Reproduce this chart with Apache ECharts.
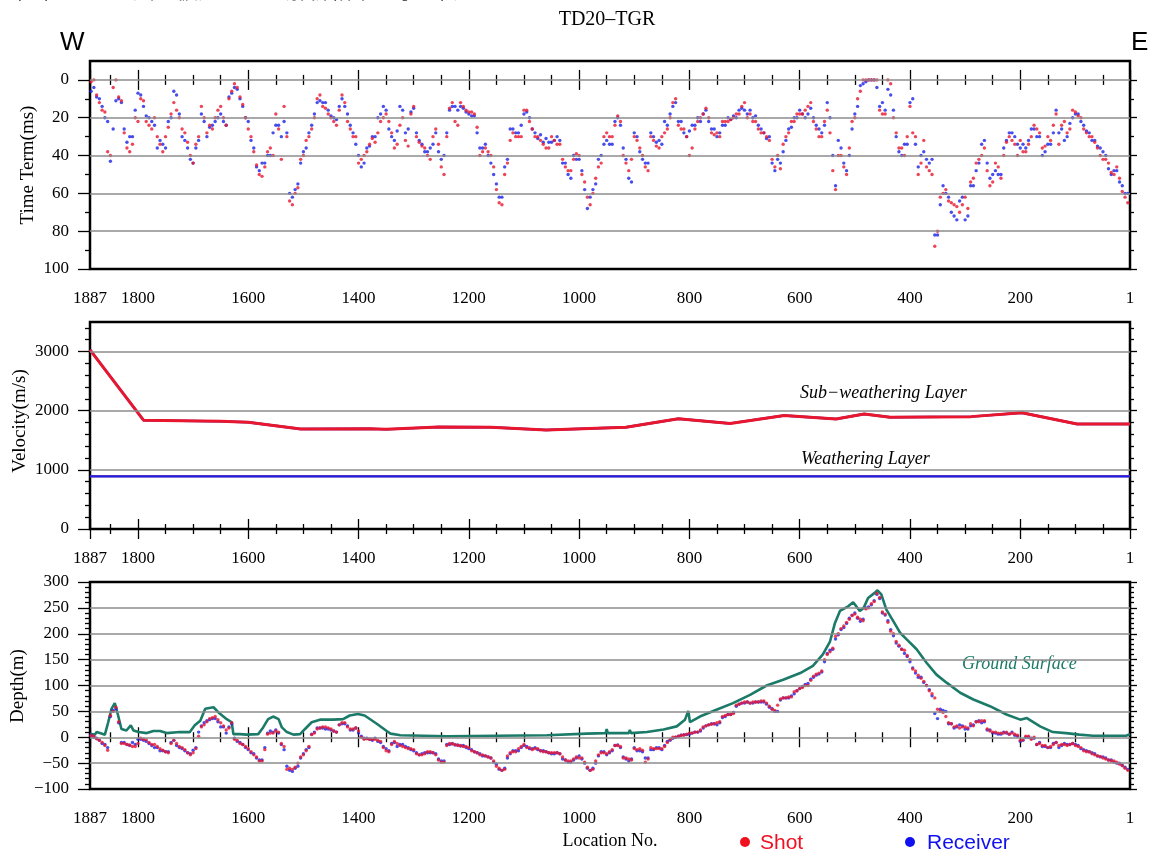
<!DOCTYPE html>
<html>
<head>
<meta charset="utf-8">
<title>TD20-TGR</title>
<script src="https://cdn.jsdelivr.net/npm/echarts@6/dist/echarts.min.js"></script>
<style>
  html, body { margin: 0; padding: 0; background: #fff; }
  #chart { width: 1151px; height: 853px; }
</style>
</head>
<body>
<div id="chart"></div>
<script>
// ---- station numbering (x axis runs from 1887 on the west to 1 on the east) ----
const locLabels = [1887, 1800, 1600, 1400, 1200, 1000, 800, 600, 400, 200, 1];

// every list below is sampled every 10 stations, starting at 1885 or 1880
const stationStep = 10;

// ---- panel 1: time terms (ms) ----
const shotTime = [ // stations 1885, 1875, ... 5
  1, 8, 16, 38, 4, 9, 28, 38, 20, 10,
  22, 26, 30, 38, 25, 12, 20, 28, 40, 34,
  14, 28, 26, 16, 20, 10, 2, 9, 20, 30,
  45, 51, 38, 40, 26, 14, 64, 60, 42, 32,
  26, 10, 14, 18, 22, 16, 12, 26, 30, 42,
  38, 31, 28, 20, 22, 36, 24, 32, 18, 30,
  35, 40, 30, 34, 50, 15, 22, 12, 16, 17,
  25, 38, 38, 46, 65, 50, 32, 30, 30, 16,
  26, 30, 34, 36, 32, 34, 46, 48, 39, 50,
  62, 60, 46, 30, 30, 24, 22, 44, 42, 32,
  40, 48, 32, 36, 28, 20, 10, 26, 30, 36,
  22, 18, 20, 29, 30, 22, 21, 18, 14, 20,
  22, 26, 28, 32, 46, 47, 30, 22, 18, 18,
  14, 22, 30, 22, 28, 58, 40, 50, 22, 10,
  0, 0, 0, 16, 18, 2, 28, 36, 30, 28,
  50, 32, 48, 88, 62, 58, 65, 67, 66, 68,
  52, 42, 36, 56, 44, 52, 33, 32, 40, 38,
  34, 24, 28, 35, 32, 18, 24, 28, 16, 19,
  26, 30, 33, 40, 42, 49, 46, 59, 65
];
const shotTimeMid = [ // stations 1880, 1870, ... 10
  0, 12, 17, 40, 0, 11, 36, 34, 22, 11,
  24, 20, 34, 30, 18, 16, 26, 33, 44, 30,
  20, 24, 20, 14, 24, 6, 4, 13, 26, 38,
  50, 46, 36, 18, 42, 30, 66, 57, 40, 30,
  20, 8, 15, 20, 24, 8, 22, 30, 44, 40,
  34, 33, 22, 18, 28, 34, 20, 35, 14, 33,
  36, 42, 26, 46, 30, 12, 24, 14, 17, 18,
  40, 36, 40, 58, 66, 44, 28, 30, 16, 22,
  30, 32, 36, 30, 34, 42, 48, 42, 40, 54,
  66, 52, 44, 28, 30, 19, 40, 48, 30, 36,
  46, 30, 35, 30, 26, 12, 24, 26, 40, 26,
  20, 15, 28, 28, 22, 22, 20, 18, 12, 18,
  22, 28, 30, 42, 40, 34, 28, 22, 18, 16,
  12, 26, 30, 16, 48, 40, 46, 36, 20, 6,
  0, 0, 0, 18, 0, 20, 36, 40, 14, 30,
  44, 46, 50, 80, 60, 64, 66, 70, 62, 54,
  44, 40, 48, 54, 46, 40, 30, 34, 32, 38,
  30, 26, 36, 30, 24, 34, 22, 26, 17, 20,
  28, 30, 36, 42, 44, 50, 52, 62
];
const recvTime = [ // stations 1880, 1870, ... 10
  4, 10, 20, 43, 11, 12, 33, 30, 7, 14,
  20, 24, 32, 36, 20, 8, 30, 36, 44, 32,
  22, 25, 22, 18, 24, 7, 5, 14, 22, 36,
  48, 44, 40, 24, 30, 28, 62, 55, 38, 28,
  18, 11, 12, 19, 21, 10, 18, 28, 40, 44,
  35, 30, 18, 16, 30, 27, 16, 26, 15, 32,
  38, 36, 28, 42, 28, 14, 16, 15, 18, 19,
  36, 34, 44, 55, 62, 42, 26, 28, 18, 20,
  28, 29, 31, 33, 30, 44, 50, 40, 42, 58,
  62, 55, 40, 32, 34, 20, 36, 52, 28, 38,
  44, 28, 33, 34, 24, 14, 22, 28, 27, 24,
  22, 16, 26, 30, 24, 20, 19, 16, 16, 16,
  19, 26, 31, 44, 42, 38, 26, 20, 16, 20,
  15, 24, 28, 12, 40, 32, 44, 40, 18, 3,
  1, 0, 4, 12, 5, 16, 38, 34, 12, 34,
  40, 42, 42, 82, 56, 62, 72, 64, 74, 56,
  48, 34, 44, 50, 50, 36, 28, 30, 36, 36,
  26, 30, 40, 34, 28, 28, 32, 23, 18, 22,
  27, 32, 35, 38, 47, 48, 54, 60
];
const recvTimeMid = [ // stations 1885, 1875, ... 5
  6, 9, 14, 22, 26, 10, 26, 30, 16, 8,
  19, 22, 36, 34, 22, 6, 18, 32, 42, 36,
  18, 30, 24, 20, 22, 9, 4, 10, 20, 32,
  46, 44, 40, 28, 24, 22, 60, 58, 44, 36,
  24, 12, 12, 16, 20, 14, 14, 24, 34, 46,
  36, 30, 20, 14, 26, 32, 14, 28, 17, 28,
  34, 38, 34, 38, 40, 16, 14, 14, 17, 19,
  28, 36, 40, 50, 62, 46, 26, 28, 24, 17,
  26, 31, 33, 33, 32, 32, 44, 52, 42, 48,
  68, 58, 42, 34, 34, 22, 24, 42, 54, 30,
  42, 44, 30, 32, 22, 18, 12, 22, 30, 24,
  20, 18, 22, 26, 28, 24, 21, 20, 15, 18,
  20, 24, 28, 30, 48, 44, 32, 25, 20, 18,
  18, 20, 26, 24, 20, 56, 36, 48, 26, 14,
  2, 0, 0, 14, 16, 8, 30, 40, 34, 10,
  46, 38, 44, 82, 66, 60, 70, 74, 62, 72,
  56, 44, 32, 52, 48, 50, 32, 28, 34, 34,
  32, 26, 30, 38, 34, 16, 26, 30, 20, 18,
  24, 28, 32, 36, 40, 50, 48, 56, 60
];

// ---- panel 2: layer velocities (m/s) ----
const subLoc = [1887, 1790, 1650, 1600, 1505, 1380, 1350, 1255, 1160, 1060, 915, 820, 726, 628, 534, 483, 436, 289, 197, 97, 1];
const subVel = [3030, 1840, 1820, 1805, 1690, 1695, 1685, 1725, 1720, 1675, 1720, 1865, 1785, 1920, 1860, 1945, 1890, 1900, 1965, 1775, 1775];
const weatherLoc = [1887, 1];
const weatherVel = [890, 890];

// ---- panel 3: elevations (m) ----
const shotDepth = [ // stations 1885, 1875, ... 5
  3, -3, -10, -25, 50, 30, -12, -15, -18, -2,
  -5, -14, -18, -25, -30, -6, -18, -24, -34, -22,
  20, 30, 38, 34, 22, 18, -4, -12, -18, -28,
  -38, -46, 6, 8, 10, -18, -60, -58, -38, -26,
  5, 16, 20, 18, 12, 24, 28, 16, 18, 0,
  -3, -4, -6, -20, -28, -8, -16, -20, -22, -32,
  -34, -28, -30, -44, -48, -12, -14, -16, -18, -26,
  -30, -34, -38, -46, -60, -62, -30, -28, -18, -20,
  -24, -22, -28, -30, -30, -32, -44, -46, -38, -40,
  -58, -62, -34, -30, -28, -16, -18, -40, -44, -24,
  -25, -42, -22, -22, -18, -4, 0, 4, 6, 8,
  10, 20, 24, 26, 30, 42, 44, 62, 66, 68,
  68, 68, 70, 60, 52, 74, 76, 78, 90, 96,
  100, 118, 124, 150, 165, 195, 210, 222, 235, 232,
  225, 250, 262, 270, 238, 205, 185, 170, 158, 132,
  120, 108, 90, 76, 50, 40, 26, 22, 20, 18,
  22, 30, 32, 12, 10, 8, 10, 8, 4, -5,
  2, 0, -12, -16, -18, -10, -14, -16, -12, -18,
  -26, -28, -34, -37, -42, -46, -48, -55, -64
];
const shotDepthMid = [ // stations 1880, 1870, ... 10
  2, -6, -16, 42, 58, -12, -14, -18, -12, -4,
  -10, -14, -22, -28, -12, -12, -20, -30, -30, 2,
  24, 36, 40, 28, 14, 28, -6, -14, -22, -34,
  -46, -24, 8, 12, -12, -62, -62, -50, -34, -18,
  8, 18, 20, 16, 10, 28, 20, 16, 12, -4,
  -4, -4, -8, -26, -14, -12, -18, -22, -24, -34,
  -32, -28, -34, -48, -16, -13, -16, -18, -20, -28,
  -34, -36, -40, -56, -64, -36, -28, -22, -14, -20,
  -22, -26, -28, -30, -30, -38, -46, -42, -40, -48,
  -64, -46, -30, -32, -24, -16, -40, -42, -22, -22,
  -48, -20, -22, -22, -10, 0, 2, 4, 8, 10,
  14, 22, 25, 28, 40, 44, 46, 64, 68, 66,
  68, 70, 66, 54, 62, 76, 78, 88, 94, 100,
  110, 122, 128, 160, 172, 200, 215, 228, 238, 228,
  248, 258, 278, 242, 222, 200, 178, 168, 150, 128,
  114, 100, 84, 54, 48, 28, 20, 18, 20, 26,
  30, 32, 16, 10, 8, 8, 6, 6, -6, 2,
  -4, -14, -16, -20, -14, -16, -14, -14, -16, -20,
  -28, -32, -36, -40, -44, -46, -52, -60
];
const recvDepth = [ // stations 1880, 1870, ... 10
  0, -6, -14, 40, 55, -10, -14, -10, -4, -6,
  -12, -20, -26, -28, -10, -16, -22, -30, -25, 10,
  28, 34, 36, 20, 8, 26, -8, -14, -24, -32,
  -44, -20, 12, 14, -14, -56, -66, -56, -32, -20,
  10, 18, 16, 14, 10, 26, 22, 14, 8, -2,
  -4, -2, -10, -22, -12, -18, -14, -20, -26, -34,
  -30, -30, -32, -46, -14, -12, -15, -16, -22, -28,
  -32, -36, -40, -52, -64, -40, -26, -26, -16, -22,
  -20, -26, -28, -32, -30, -42, -48, -44, -36, -50,
  -64, -50, -28, -34, -26, -15, -38, -46, -20, -26,
  -40, -24, -20, -24, -8, -2, 2, 5, 6, 10,
  12, 22, 26, 24, 38, 44, 48, 64, 66, 66,
  68, 68, 64, 55, 50, 76, 76, 84, 94, 102,
  112, 120, 126, 162, 170, 198, 212, 230, 240, 224,
  250, 256, 276, 240, 225, 196, 176, 162, 146, 124,
  116, 100, 80, 36, 52, 26, 18, 24, 16, 22,
  30, 28, 14, 8, 6, 10, 6, 4, -8, 0,
  -2, -14, -18, -20, -12, -20, -12, -14, -14, -22,
  -26, -30, -36, -38, -44, -48, -50, -58
];
const recvDepthMid = [ // stations 1885, 1875, ... 5
  4, -2, -12, -20, 52, 28, -10, -16, -14, -4,
  -8, -16, -20, -26, -28, -6, -20, -26, -32, -20,
  22, 32, 36, 30, 20, 20, -2, -10, -20, -30,
  -40, -44, 8, 10, 8, -24, -64, -60, -40, -24,
  6, 18, 18, 16, 12, 24, 26, 14, 18, 2,
  -2, -6, -8, -18, -26, -10, -14, -18, -24, -30,
  -32, -30, -30, -42, -46, -14, -15, -17, -20, -24,
  -30, -36, -38, -48, -62, -60, -32, -26, -20, -18,
  -22, -24, -26, -30, -32, -32, -44, -48, -40, -42,
  -60, -60, -36, -28, -30, -16, -20, -42, -42, -26,
  -28, -40, -24, -20, -16, -6, 0, 4, 5, 8,
  10, 18, 24, 26, 28, 40, 44, 60, 66, 68,
  66, 68, 68, 58, 50, 72, 76, 80, 90, 98,
  104, 116, 122, 146, 168, 190, 208, 220, 236, 230,
  228, 252, 264, 268, 236, 208, 182, 170, 156, 134,
  116, 106, 92, 46, 54, 50, 26, 20, 22, 16,
  24, 32, 30, 14, 8, 6, 8, 10, 2, -6,
  0, -2, -10, -18, -20, -10, -16, -14, -12, -16,
  -24, -28, -32, -38, -40, -44, -50, -54, -62
];
const groundLoc = [
  1887, 1878, 1875, 1869, 1860, 1854, 1848, 1842, 1836, 1830, 1821, 1813, 1808, 1799, 1784, 1772,
  1760, 1748, 1724, 1706, 1697, 1687, 1678, 1663, 1654, 1639, 1630, 1627, 1615, 1603, 1582, 1573,
  1564, 1555, 1545, 1539, 1530, 1518, 1506, 1497, 1485, 1470, 1446, 1428, 1416, 1401, 1389, 1367,
  1349, 1342, 1324, 1239, 1058, 986, 952, 950, 948, 910, 908, 906, 877, 847, 823, 808, 802, 799,
  781, 751, 721, 690, 660, 630, 599, 576, 558, 545, 536, 527, 512, 503, 491, 484, 476,
  464, 459, 452, 443, 430, 418, 406, 388, 370, 352, 333, 309, 285, 255, 225, 200, 188, 164,
  141, 117, 93, 68, 8, 1
];
const groundElev = [
  6, 5, 10, 8, 5, 29, 55, 66, 42, 16, 13, 23, 13, 10, 8, 12,
  12, 8, 10, 10, 23, 32, 55, 58, 48, 35, 29, 6, 6, 5, 6, 19,
  35, 40, 35, 19, 10, 5, 6, 16, 29, 34, 34, 35, 42, 45, 42, 26,
  12, 7, 4, 2, 4, 7, 8, 16, 8, 8, 14, 8, 10, 15, 21, 34, 51, 29,
  40, 53, 66, 82, 100, 111, 124, 138, 160, 185, 221, 244, 253, 261, 244, 250, 269,
  279, 284, 276, 247, 224, 202, 189, 170, 144, 121, 105, 86, 73, 60, 44, 34, 37, 21,
  10, 8, 5, 3, 3, 6
];

// ---- styling ----
const SERIF = '"Liberation Serif", "Times New Roman", serif';
const SANS = '"Liberation Sans", Arial, sans-serif';
const RED = '#e8172e';
const BLUE = '#1a22e6';
const TEAL = '#1b7a68';
const GRID_GRAY = '#8c8c8c';

function ticksBetween(min, max, step, skip) {
  const out = [];
  for (let v = min; v <= max; v += step) if (skip.indexOf(v) < 0) out.push(v);
  return out;
}
const locMinor = ticksBetween(50, 1850, 50, locLabels);

const panels = [
  { top: 61, height: 208, min: -10, max: 100, inverse: true,
    labels: [0, 20, 40, 60, 80, 100], minor: [10, 30, 50, 70, 90],
    grid: [0, 20, 40, 60, 80] },
  { top: 322, height: 207, min: 0, max: 3500, inverse: false,
    labels: [0, 1000, 2000, 3000], minor: ticksBetween(200, 3400, 200, [1000, 2000, 3000]),
    grid: [1000, 2000, 3000] },
  { top: 582, height: 207, min: -100, max: 300, inverse: false,
    labels: [-100, -50, 0, 50, 100, 150, 200, 250, 300],
    minor: ticksBetween(-90, 290, 10, [-50, 0, 50, 100, 150, 200, 250]),
    grid: [-50, 0, 50, 100, 150, 200, 250] }
];

const tickLine = { color: '#000', width: 1.3 };
const fmt = v => (v < 0 ? '\u2212' + (-v) : String(v));

const grid = [], xAxis = [], yAxis = [];
panels.forEach((p, g) => {
  grid.push({ left: 90, right: 21, top: p.top, height: p.height, show: true,
              borderColor: '#000', borderWidth: 2.5, backgroundColor: 'transparent' });
  const xBase = { type: 'value', gridIndex: g, min: 1, max: 1887, inverse: true,
                  axisLine: { show: false }, splitLine: { show: false } };
  [['bottom', true], ['top', false]].forEach(([pos, withLabels]) => {
    xAxis.push(Object.assign({}, xBase, {
      position: pos,
      axisTick: { show: true, customValues: locLabels, length: 10, lineStyle: tickLine },
      axisLabel: { show: withLabels, customValues: locLabels, margin: 21, formatter: v => String(v),
                   fontFamily: SERIF, fontSize: 17, color: '#000' }
    }));
    xAxis.push(Object.assign({}, xBase, {
      position: pos,
      axisTick: { show: true, customValues: locMinor, length: 5, lineStyle: tickLine },
      axisLabel: { show: false }
    }));
  });
  const yBase = { type: 'value', gridIndex: g, min: p.min, max: p.max, inverse: p.inverse,
                  axisLine: { show: false }, splitLine: { show: false } };
  [['left', true, 12, 5], ['right', false, 7, 4]].forEach(([pos, withLabels, lenMaj, lenMin]) => {
    yAxis.push(Object.assign({}, yBase, {
      position: pos,
      axisTick: { show: true, customValues: p.labels, length: lenMaj, lineStyle: tickLine },
      axisLabel: { show: withLabels, customValues: p.labels, margin: 21, formatter: fmt,
                   fontFamily: SERIF, fontSize: 17, color: '#000' }
    }));
    yAxis.push(Object.assign({}, yBase, {
      position: pos,
      axisTick: { show: true, customValues: p.minor, length: lenMin, lineStyle: tickLine },
      axisLabel: { show: false }
    }));
  });
});

// pair each sampled value with its station number
function stations(start, values) {
  return values.map((v, i) => [start - i * stationStep, v]);
}
function pairs(locs, values) {
  return locs.map((l, i) => [l, values[i]]);
}

const series = [];
panels.forEach((p, g) => {
  series.push({
    type: 'line', xAxisIndex: g * 4, yAxisIndex: g * 4, data: [], silent: true, z: 1,
    markLine: { silent: true, symbol: ['none', 'none'], animation: false,
                label: { show: false },
                lineStyle: { color: GRID_GRAY, width: 1.5, type: 'solid' },
                data: p.grid.map(v => ({ yAxis: v })) }
  });
});

const dot = (name, g, data, color) => ({
  name, type: 'scatter', xAxisIndex: g * 4, yAxisIndex: g * 4, data,
  symbolSize: 3.4, itemStyle: { color }, z: 3, animation: false
});
const path = (name, g, data, color, width) => ({
  name, type: 'line', xAxisIndex: g * 4, yAxisIndex: g * 4, data,
  showSymbol: false, symbol: 'none', lineStyle: { color, width }, z: 3, animation: false
});

series.push(dot('Receiver', 0, stations(1880, recvTime).concat(stations(1885, recvTimeMid)), BLUE));
series.push(dot('Shot', 0, stations(1885, shotTime).concat(stations(1880, shotTimeMid)), RED));

series.push(path('Receiver', 1, pairs(subLoc, subVel), BLUE, 2.4));
series.push(path('Shot', 1, pairs(subLoc, subVel), RED, 3));
series.push(path('Shot', 1, pairs(weatherLoc, weatherVel), RED, 2));
series.push(path('Receiver', 1, pairs(weatherLoc, weatherVel), BLUE, 2.2));

series.push(path('Ground Surface', 2, pairs(groundLoc, groundElev), TEAL, 2.6));
series.push(dot('Receiver', 2, stations(1880, recvDepth).concat(stations(1885, recvDepthMid)), BLUE));
series.push(dot('Shot', 2, stations(1885, shotDepth).concat(stations(1880, shotDepthMid)), RED));

const txt = (x, y, text, font, extra) => ({
  type: 'text', x, y, silent: true,
  style: Object.assign({ text, font, fill: '#000', textAlign: 'left', textVerticalAlign: 'middle' }, extra || {})
});
const vtxt = (x, y, text, font) =>
  Object.assign(txt(x, y, text, font, { textAlign: 'center' }), { rotation: Math.PI / 2 });

const graphic = [
  txt(0, 1, '（量）ノーツ法と仮定による解析結果を示す）。', '22px "Noto Sans CJK JP"', { textVerticalAlign: 'bottom', fill: '#222' }),
  txt(607, 20, 'TD20\u2013TGR', '20px ' + SERIF, { textAlign: 'center' }),
  txt(60, 43, 'W', '26px ' + SANS),
  txt(1131, 43, 'E', '26px ' + SANS),
  vtxt(28, 165, 'Time Term(ms)', '19px ' + SERIF),
  vtxt(20, 421, 'Velocity(m/s)', '19px ' + SERIF),
  vtxt(18, 686, 'Depth(m)', '19px ' + SERIF),
  txt(800, 393, 'Sub\u2212weathering Layer', 'italic 18px ' + SERIF),
  txt(801, 459, 'Weathering Layer', 'italic 18px ' + SERIF),
  txt(962, 664, 'Ground Surface', 'italic 18px ' + SERIF, { fill: TEAL }),
  txt(610, 841, 'Location No.', '18px ' + SERIF, { textAlign: 'center' }),
  { type: 'circle', silent: true, shape: { cx: 745, cy: 842, r: 5 }, style: { fill: '#f01020' } },
  txt(760, 843, 'Shot', '21px ' + SANS, { fill: '#f01020' }),
  { type: 'circle', silent: true, shape: { cx: 910, cy: 842, r: 5 }, style: { fill: '#1010f0' } },
  txt(927, 843, 'Receiver', '21px ' + SANS, { fill: '#1010f0' })
];

const chart = echarts.init(document.getElementById('chart'), null, { renderer: 'canvas' });
chart.setOption({
  animation: false,
  backgroundColor: '#fff',
  grid, xAxis, yAxis, series, graphic
});
</script>
</body>
</html>
